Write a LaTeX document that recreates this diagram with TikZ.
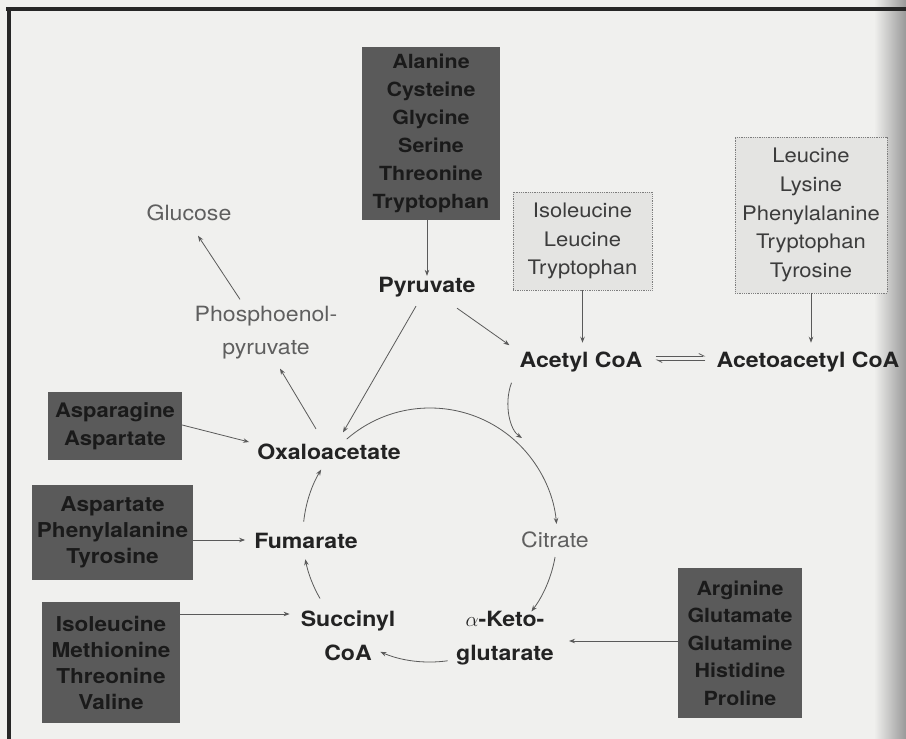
\documentclass[tikz,border=0pt]{standalone}
\usepackage{fontspec}
\setmainfont{TeX Gyre Heros}[FakeStretch=1.1]
\usetikzlibrary{arrows.meta}
\definecolor{bg}{RGB}{240,240,238}
\definecolor{darkfill}{RGB}{90,90,90}
\definecolor{darktext}{RGB}{26,26,26}
\definecolor{lightfill}{RGB}{228,228,226}
\definecolor{lightedge}{RGB}{125,125,125}
\definecolor{arrowcol}{RGB}{90,90,90}
\definecolor{labcol}{RGB}{35,35,35}
\definecolor{greytext}{RGB}{95,95,95}
\definecolor{lighttext}{RGB}{60,60,60}
\begin{document}
\begin{tikzpicture}[x=1pt,y=-1pt,
  darkbox/.style={fill=darkfill, text=darktext, font=\bfseries\fontsize{20}{27}\selectfont, align=center, inner sep=0pt},
  lightbox/.style={fill=lightfill, draw=lightedge, densely dotted, line width=0.8pt, text=lighttext, font=\fontsize{20}{28.6}\selectfont, align=center, inner sep=0pt},
  boldlab/.style={text=labcol, font=\bfseries\fontsize{21}{34}\selectfont, align=center, inner sep=1pt},
  greylab/.style={text=greytext, font=\fontsize{21}{33}\selectfont, align=center, inner sep=1pt},
  arr/.style={draw=arrowcol, line width=0.8pt, -{Stealth[length=6pt,width=4.5pt]}},
  harp/.style={draw=arrowcol, line width=0.8pt, -{Straight Barb[left,length=5pt,width=5pt]}},
  frameline/.style={draw=black!85, line width=3.2pt}
]
\useasboundingbox (0,0) rectangle (906,739);
\fill[bg] (0,0) rectangle (906,739);
\shade[left color=bg, right color=black!40] (874,0) rectangle (906,739);
\draw[frameline] (6,9) -- (906,9);
\draw[frameline] (9,7.4) -- (9,739);

% amino-acid boxes
\node[darkbox, minimum width=138pt, minimum height=173pt, font=\bfseries\fontsize{19.5}{28}\selectfont] (top) at (431,133.5)
  {Alanine\\Cysteine\\Glycine\\Serine\\Threonine\\Tryptophan};
\node[lightbox, minimum width=139pt, minimum height=98pt] (ilt) at (582.5,241)
  {Isoleucine\\Leucine\\Tryptophan};
\node[lightbox, minimum width=152pt, minimum height=156pt] (llt) at (811,215)
  {Leucine\\Lysine\\Phenylalanine\\Tryptophan\\Tyrosine};
\node[darkbox, minimum width=134pt, minimum height=68pt, font=\bfseries\fontsize{20}{28}\selectfont] (asn) at (115,426)
  {Asparagine\\Aspartate};
\node[darkbox, minimum width=161pt, minimum height=95pt, font=\bfseries\fontsize{20.5}{26}\selectfont] (asp) at (112.5,532.5)
  {Aspartate\\Phenylalanine\\Tyrosine};
\node[darkbox, minimum width=138pt, minimum height=121pt, font=\bfseries\fontsize{20.5}{26}\selectfont] (ile) at (111,662.5)
  {Isoleucine\\Methionine\\Threonine\\Valine};
\node[darkbox, minimum width=124pt, minimum height=150pt, font=\bfseries\fontsize{19.5}{27.5}\selectfont] (arg) at (740,643)
  {Arginine\\Glutamate\\Glutamine\\Histidine\\Proline};

% metabolites
\node[boldlab] (pyr) at (427,287) {Pyruvate};
\node[boldlab] (acoa) at (581,362) {Acetyl CoA};
\node[boldlab] (aacoa) at (808,362) {Acetoacetyl CoA};
\node[boldlab] (oaa) at (329,452) {Oxaloacetate};
\node[boldlab] (fum) at (306,541) {Fumarate};
\node[greylab] (cit) at (555,540) {Citrate};
\node[boldlab] (suc) at (348,636) {Succinyl\\CoA};
\node[boldlab] (akg) at (505,638) {$\alpha$-Keto-\\glutarate};
\node[greylab] (glc) at (189,213) {Glucose};
\node[greylab] (pep) at (266,333) {Phosphoenol-\\pyruvate};

\coordinate (cyc) at (430,535);
\coordinate (acin) at (522,438);

% feeder arrows
\draw[arr] (top.south -| pyr.north) -- (pyr.north);
\draw[arr] ([shift={(-11,8)}]pyr.south) -- ([shift={(14,-10.5)}]oaa.north);
\draw[arr] ([shift={(30,10)}]pyr.south) -- ([shift={(-9,-5.5)}]acoa.north west);
\draw[arr] ([shift={(-13,-14)}]oaa.north) -- ([shift={(14,8)}]pep.south);
\draw[arr] ([shift={(-26,-6)}]pep.north) -- ([shift={(9,13.5)}]glc.south);
\draw[arr] ([yshift=1pt]asn.east) -- ([shift={(-7,-10)}]oaa.west);
\draw[arr] ([shift={(0,7.5)}]asp.east) -- ([shift={(-8,-1)}]fum.west);
\draw[arr] ([shift={(0,-48.5)}]ile.east) -- ([shift={(-10,-22)}]suc.west);
\draw[arr] ([shift={(0,-2)}]arg.west) -- ([shift={(14,3)}]akg.east);
\draw[arr, shorten >=8pt] (ilt.south) -- (ilt.south |- acoa.north);
\draw[arr, shorten >=8pt] (llt.south) -- (llt.south |- aacoa.north);
\draw[harp] ([shift={(12,-6)}]acoa.east) -- ([shift={(-10,-6)}]aacoa.west);
\draw[harp] ([shift={(-10,-2)}]aacoa.west) -- ([shift={(12,-2)}]acoa.east);
\draw[arr] ([shift={(-7,9.5)}]acoa.south west) .. controls +(-8,22) and +(-12,-8) .. (acin);

% citric acid cycle
\draw[arr] ([shift={(-131:127)}]cyc) arc[start angle=-131, end angle=-5, radius=127];
\draw[arr] ([shift={(10:127)}]cyc) arc[start angle=10, end angle=37, radius=127];
\draw[arr] ([shift={(82:127)}]cyc) arc[start angle=82, end angle=113, radius=127];
\draw[arr] ([shift={(150:127)}]cyc) arc[start angle=150, end angle=169, radius=127];
\draw[arr] ([shift={(-174:127)}]cyc) arc[start angle=-174, end angle=-149, radius=127];
\end{tikzpicture}
\end{document}
